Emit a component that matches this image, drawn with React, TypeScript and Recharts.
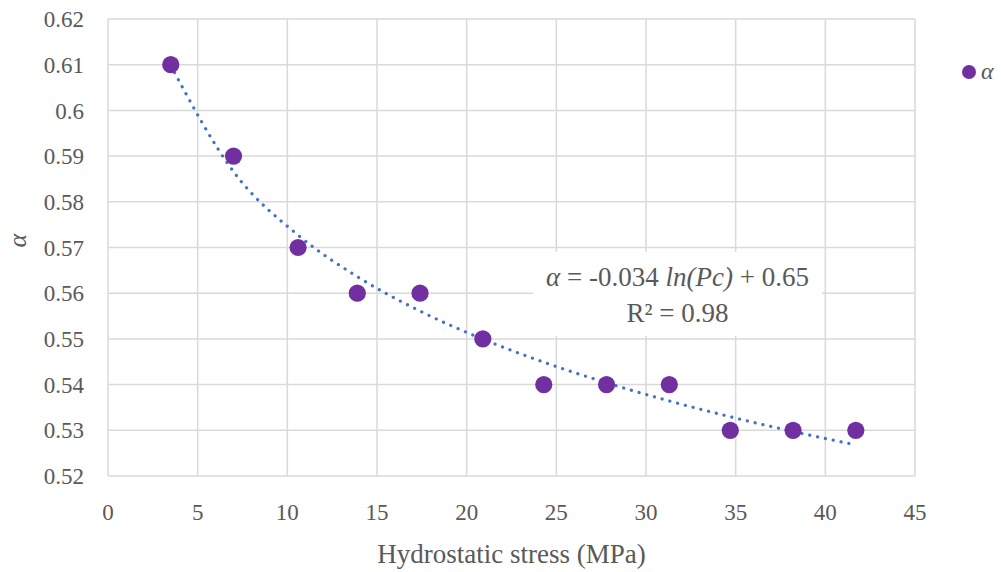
import React from 'react';
import { ComposedChart, Scatter, Line, XAxis, YAxis, CartesianGrid } from 'recharts';

// Hydrostatic stress (MPa) and measured alpha
const stress = [3.5, 7.0, 10.6, 13.9, 17.4, 20.9, 24.3, 27.8, 31.3, 34.7, 38.2, 41.7];
const alpha = [0.61, 0.59, 0.57, 0.56, 0.56, 0.55, 0.54, 0.54, 0.54, 0.53, 0.53, 0.53];

const xTicks = [0, 5, 10, 15, 20, 25, 30, 35, 40, 45];
const yTicks = [0.52, 0.53, 0.54, 0.55, 0.56, 0.57, 0.58, 0.59, 0.6, 0.61, 0.62];

const FONT = '"Liberation Serif", serif';
const TEXT = '#595959';
const POINT = '#7030A0';
const TREND = '#4472C4';

const points = stress.map((x, i) => ({ x, y: alpha[i] }));

// log trendline fitted to the points (least squares on ln x)
const lx = stress.map((x) => Math.log(x));
const n = lx.length;
const mx = lx.reduce((s, v) => s + v, 0) / n;
const my = alpha.reduce((s, v) => s + v, 0) / n;
const slope =
  lx.reduce((s, v, i) => s + (v - mx) * (alpha[i] - my), 0) /
  lx.reduce((s, v) => s + (v - mx) * (v - mx), 0);
const icpt = my - slope * mx;
const trend = stress.map((x) => ({ x, t: slope * Math.log(x) + icpt }));

const Dot = (p: any) => <circle cx={p.cx} cy={p.cy} r={8.6} fill={POINT} />;

export default function App() {
  return (
    <div style={{ position: 'absolute', left: 0, top: 0, width: 1001, height: 572, background: '#fff' }}>
      <ComposedChart width={1001} height={572} margin={{ top: 19, right: 86, bottom: 0, left: 0 }}>
        <CartesianGrid stroke="#d9d9d9" strokeWidth={1.5} />
        <XAxis
          type="number"
          dataKey="x"
          domain={[0, 45]}
          ticks={xTicks}
          height={96}
          axisLine={false}
          tickLine={false}
          tickMargin={22}
          tick={{ fill: TEXT, fontFamily: FONT, fontSize: 23 }}
          label={{ value: 'Hydrostatic stress (MPa)', position: 'insideBottom', offset: 9, fill: TEXT, fontFamily: FONT, fontSize: 27 }}
        />
        <YAxis
          type="number"
          domain={[0.52, 0.62]}
          ticks={yTicks}
          width={108}
          axisLine={false}
          tickLine={false}
          tickMargin={18}
          tick={{ fill: TEXT, fontFamily: FONT, fontSize: 23 }}
          label={{ value: 'α', angle: -90, position: 'insideLeft', offset: 17, fill: TEXT, fontFamily: FONT, fontSize: 26, fontStyle: 'italic' }}
        />
        <Scatter data={points} dataKey="y" fill={POINT} shape={Dot} isAnimationActive={false} />
        <Line
          data={trend}
          dataKey="t"
          type="monotone"
          dot={false}
          activeDot={false}
          stroke={TREND}
          strokeWidth={3.2}
          strokeDasharray="0.1 7.9"
          strokeLinecap="round"
          isAnimationActive={false}
          legendType="none"
        />
      </ComposedChart>
      <div
        style={{
          position: 'absolute',
          left: 961,
          top: 58,
          display: 'flex',
          alignItems: 'center',
          fontFamily: FONT,
          color: TEXT,
          fontSize: 24,
        }}
      >
        <svg width={16} height={16} style={{ marginRight: 4 }}>
          <circle cx={8} cy={8} r={7} fill={POINT} />
        </svg>
        <span style={{ fontStyle: 'italic' }}>α</span>
      </div>
      <div
        style={{
          position: 'absolute',
          left: 533,
          top: 252,
          width: 289,
          height: 84,
          background: '#fff',
          fontFamily: FONT,
          color: TEXT,
          fontSize: 27,
          textAlign: 'center',
          lineHeight: '36px',
          paddingTop: 7,
          boxSizing: 'border-box',
        }}
      >
        <div>
          <i>α</i> = -0.034 <i>ln(Pc)</i> + 0.65
        </div>
        <div>R² = 0.98</div>
      </div>
    </div>
  );
}
